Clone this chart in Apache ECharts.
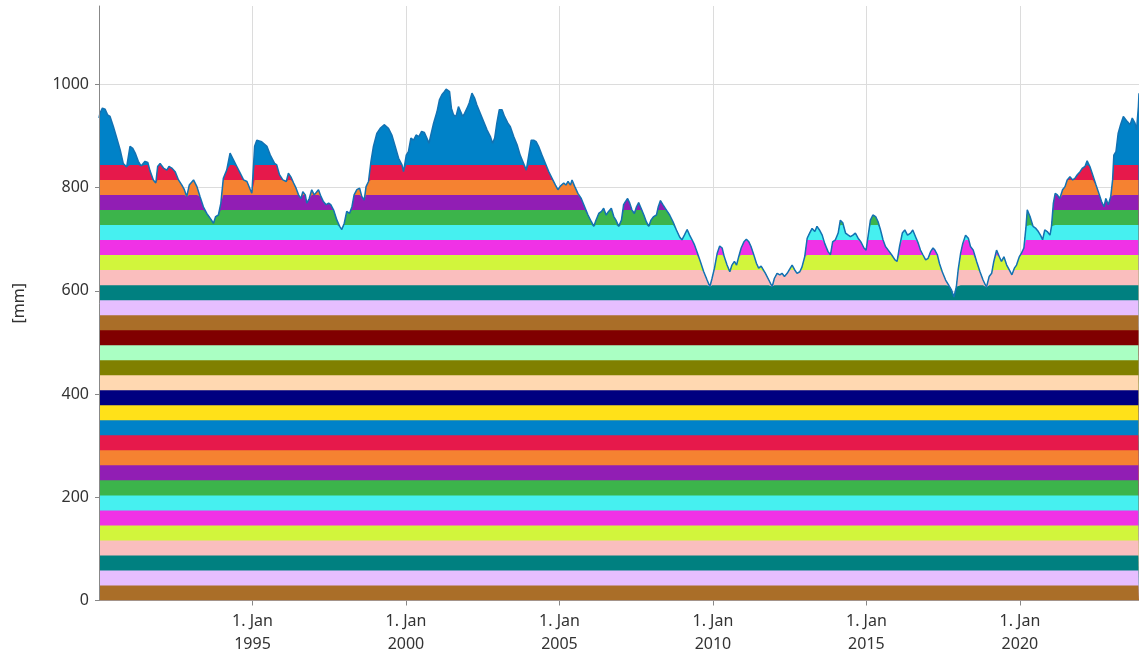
<!DOCTYPE html>
<html>
<head>
<meta charset="utf-8">
<title>Wasserstand</title>
<script src="https://cdn.jsdelivr.net/npm/echarts@6/dist/echarts.min.js"></script>
<style>
  html, body { margin: 0; padding: 0; background: #fff; }
  #chart { width: 1139px; height: 660px; }
</style>
</head>
<body>
<div id="chart"></div>
<script>
// decimal years of the readings
const years = [
  1990.00,1990.03,1990.11,1990.20,1990.28,1990.36,1990.47,1990.58,1990.69,1990.79,1990.90,
  1991.01,1991.10,1991.18,1991.28,1991.37,1991.50,1991.59,1991.66,1991.77,1991.85,1991.91,1991.99,
  1992.10,1992.21,1992.28,1992.37,1992.48,1992.59,1992.70,1992.78,1992.86,1992.94,
  1993.08,1993.19,1993.29,1993.40,1993.51,1993.62,1993.73,1993.80,1993.89,1993.97,
  1994.05,1994.16,1994.27,1994.38,1994.49,1994.60,1994.71,1994.82,1994.93,1994.98,
  1995.07,1995.14,1995.30,1995.47,1995.58,1995.72,1995.79,1995.88,1995.99,
  1996.10,1996.17,1996.25,1996.34,1996.42,1996.50,1996.58,1996.64,1996.72,1996.77,1996.85,1996.93,
  1997.01,1997.07,1997.15,1997.23,1997.31,1997.40,1997.48,1997.55,1997.64,1997.75,1997.84,1997.91,1997.99,
  1998.07,1998.16,1998.24,1998.31,1998.40,1998.49,1998.56,1998.64,1998.70,1998.78,1998.86,1998.94,
  1999.05,1999.16,1999.29,1999.43,1999.54,1999.65,1999.76,1999.87,1999.92,
  2000.01,2000.08,2000.16,2000.25,2000.33,2000.42,2000.51,2000.60,2000.68,2000.75,2000.81,2000.90,
  2001.01,2001.09,2001.17,2001.25,2001.31,2001.42,2001.48,2001.55,2001.63,2001.71,2001.77,2001.85,2001.91,2001.99,
  2002.06,2002.15,2002.24,2002.31,2002.42,2002.53,2002.64,2002.75,2002.82,2002.89,2002.96,
  2003.04,2003.13,2003.21,2003.32,2003.40,2003.51,2003.62,2003.72,2003.83,2003.92,
  2004.00,2004.08,2004.16,2004.24,2004.32,2004.43,2004.54,2004.65,2004.76,2004.87,2004.95,
  2005.03,2005.14,2005.21,2005.28,2005.36,2005.41,2005.50,2005.60,2005.71,2005.82,2005.93,
  2006.04,2006.12,2006.19,2006.28,2006.37,2006.44,2006.52,2006.60,2006.69,2006.77,2006.84,2006.93,
  2007.02,2007.09,2007.15,2007.22,2007.29,2007.36,2007.44,2007.51,2007.58,2007.66,2007.75,2007.83,2007.91,2007.98,
  2008.07,2008.16,2008.22,2008.29,2008.37,2008.48,2008.59,2008.70,2008.81,2008.92,2008.99,
  2009.07,2009.16,2009.24,2009.32,2009.40,2009.48,2009.59,2009.70,2009.81,2009.90,2009.97,
  2010.05,2010.14,2010.22,2010.30,2010.37,2010.46,2010.55,2010.62,2010.70,2010.77,2010.84,2010.92,
  2011.01,2011.09,2011.17,2011.24,2011.33,2011.42,2011.49,2011.57,2011.63,2011.71,2011.82,2011.93,
  2012.00,2012.09,2012.18,2012.25,2012.33,2012.42,2012.50,2012.58,2012.66,2012.74,2012.83,2012.90,2012.99,
  2013.07,2013.15,2013.23,2013.32,2013.39,2013.47,2013.56,2013.64,2013.75,2013.83,2013.90,2013.99,
  2014.08,2014.15,2014.23,2014.32,2014.41,2014.48,2014.56,2014.64,2014.73,2014.82,2014.92,2014.99,
  2015.06,2015.13,2015.21,2015.30,2015.38,2015.46,2015.54,2015.62,2015.71,2015.82,2015.93,
  2016.00,2016.08,2016.17,2016.25,2016.34,2016.44,2016.51,2016.60,2016.69,2016.76,2016.84,2016.93,
  2017.01,2017.09,2017.17,2017.23,2017.31,2017.38,2017.47,2017.58,2017.69,2017.77,2017.85,2017.93,2017.99,
  2018.07,2018.14,2018.23,2018.32,2018.39,2018.48,2018.59,2018.70,2018.80,2018.91,
  2019.00,2019.08,2019.15,2019.24,2019.33,2019.40,2019.48,2019.57,2019.65,2019.74,2019.82,2019.89,2019.98,
  2020.05,2020.13,2020.20,2020.24,2020.33,2020.43,2020.52,2020.60,2020.67,2020.74,2020.81,2020.89,2020.98,
  2021.03,2021.09,2021.15,2021.22,2021.30,2021.39,2021.47,2021.54,2021.63,2021.72,2021.79,2021.87,2021.96,
  2022.04,2022.12,2022.19,2022.28,2022.37,2022.48,2022.59,2022.66,2022.74,2022.80,2022.88,2022.96,
  2023.02,2023.06,2023.13,2023.20,2023.28,2023.37,2023.42,2023.50,2023.59,2023.66,2023.75,2023.80,2023.86,2023.88
];

// level in mm, one per entry of years
const levelMm = [
  935,944,954,952,941,938,918,896,873,847,840,
  880,876,867,851,842,851,849,833,815,809,841,847,
  838,834,841,838,831,815,805,796,783,805,
  815,802,783,763,750,741,731,744,747,770,
  818,834,867,854,841,828,815,812,796,789,
  880,892,889,880,863,847,844,825,815,
  812,828,821,809,799,786,779,792,786,770,779,796,
  786,789,796,783,773,767,770,767,757,737,725,719,731,
  754,750,763,786,796,799,783,776,802,812,851,880,
  905,915,922,915,902,880,857,844,831,
  863,870,896,892,902,899,909,907,896,886,902,925,
  947,970,980,986,991,986,954,941,938,957,958,938,944,954,
  964,983,973,960,944,928,912,899,886,896,925,
  951,951,938,925,918,899,883,863,847,834,
  863,892,892,889,880,863,847,831,818,805,796,
  803,809,805,812,805,815,802,789,779,763,747,
  734,725,737,750,754,760,747,754,760,744,737,725,
  737,767,773,779,770,757,750,763,771,760,747,734,725,737,
  744,747,763,775,767,757,747,734,718,704,699,
  708,719,708,699,689,676,657,637,621,608,624,
  644,673,687,683,666,650,637,650,657,650,666,683,
  695,700,695,686,670,653,644,648,647,634,621,608,
  624,634,631,634,628,634,642,650,641,634,637,646,666,
  702,712,721,715,725,718,708,692,676,670,695,699,
  712,737,732,712,708,705,708,712,702,695,683,679,
  708,737,747,744,734,718,699,686,679,670,660,
  657,686,712,718,708,712,718,705,692,679,670,660,
  663,676,683,679,670,653,637,621,610,602,588,608,641,
  673,692,708,702,686,679,657,637,621,607,
  628,634,657,679,666,657,666,650,641,631,644,650,666,
  673,683,725,757,744,725,721,715,708,699,718,715,708,
  725,770,789,786,779,796,802,815,821,815,818,825,831,
  838,841,852,841,825,805,786,773,763,779,767,783,
  815,863,870,905,922,938,941,928,922,935,925,912,957,983
];

const bandMm = 29.1;      // thickness of one coloured layer
const bandCount = 29;     // full layers below the open top layer
// colour cycle, from the top layer downwards
const bandColors = [
  '#0082c8', '#e6194b', '#f58231', '#911eb4', '#3cb44b', '#46f0f0',
  '#f032e6', '#d2f53c', '#fabebe', '#008080', '#e6beff', '#aa6e28',
  '#800000', '#aaffc3', '#808000', '#ffd8b1', '#000080', '#ffe119'
];
const yTicks = [0, 200, 400, 600, 800, 1000];

const font = '"Noto Sans", "Open Sans", sans-serif';
const yMax = 1152;

const chart = echarts.init(document.getElementById('chart'));

// each layer is filled from 0 up to min(level, its top); drawn from the top
// layer down so the lower ones paint over the higher ones
const series = [];
for (let k = bandCount; k >= 0; k--) {
  const open = k === bandCount;
  series.push({
    type: 'line',
    symbol: 'none',
    silent: true,
    data: years.map((y, i) => [y, open ? levelMm[i] : Math.min(levelMm[i], (k + 1) * bandMm)]),
    lineStyle: { width: 0 },
    areaStyle: { color: bandColors[(bandCount - k) % bandColors.length], opacity: 1, origin: 'start' }
  });
}
series.push({
  type: 'line',
  symbol: 'none',
  silent: true,
  data: years.map((y, i) => [y, levelMm[i]]),
  lineStyle: { color: '#1272b3', width: 1.5 },
  z: 4
});

chart.setOption({
  animation: false,
  grid: { left: 99, right: 0, top: 6, bottom: 59.5 },
  xAxis: {
    type: 'value',
    min: 1990,
    max: 2023.88,
    interval: 5,
    axisLine: { show: true, lineStyle: { color: '#888' } },
    axisTick: { show: true, length: 5, lineStyle: { color: '#888' } },
    axisLabel: {
      showMinLabel: false,
      showMaxLabel: false,
      color: '#333',
      fontSize: 16,
      fontFamily: font,
      lineHeight: 23,
      margin: 9,
      formatter: v => '1. Jan\n' + Math.round(v)
    },
    splitLine: { show: true, lineStyle: { color: '#dcdcdc' } }
  },
  yAxis: [
    {
      type: 'value',
      min: 0,
      max: yMax,
      interval: 200,
      name: '[mm]',
      nameLocation: 'middle',
      nameGap: 72,
      nameTextStyle: { color: '#333', fontSize: 16, fontFamily: font },
      axisLine: { show: false },
      axisTick: { show: true, length: 4, customValues: yTicks, lineStyle: { color: '#888' } },
      axisLabel: {
        showMaxLabel: false,
        color: '#333',
        fontSize: 16,
        fontFamily: font,
        margin: 10,
        formatter: v => String(v)
      },
      splitLine: { show: true, lineStyle: { color: '#dcdcdc' } }
    },
    {
      // same scale again, only to draw the axis line above the layers
      type: 'value',
      position: 'left',
      min: 0,
      max: yMax,
      interval: 200,
      z: 5,
      axisLine: { show: true, lineStyle: { color: '#888' } },
      axisTick: { show: false },
      axisLabel: { show: false },
      splitLine: { show: false }
    }
  ],
  series: series
});
</script>
</body>
</html>
